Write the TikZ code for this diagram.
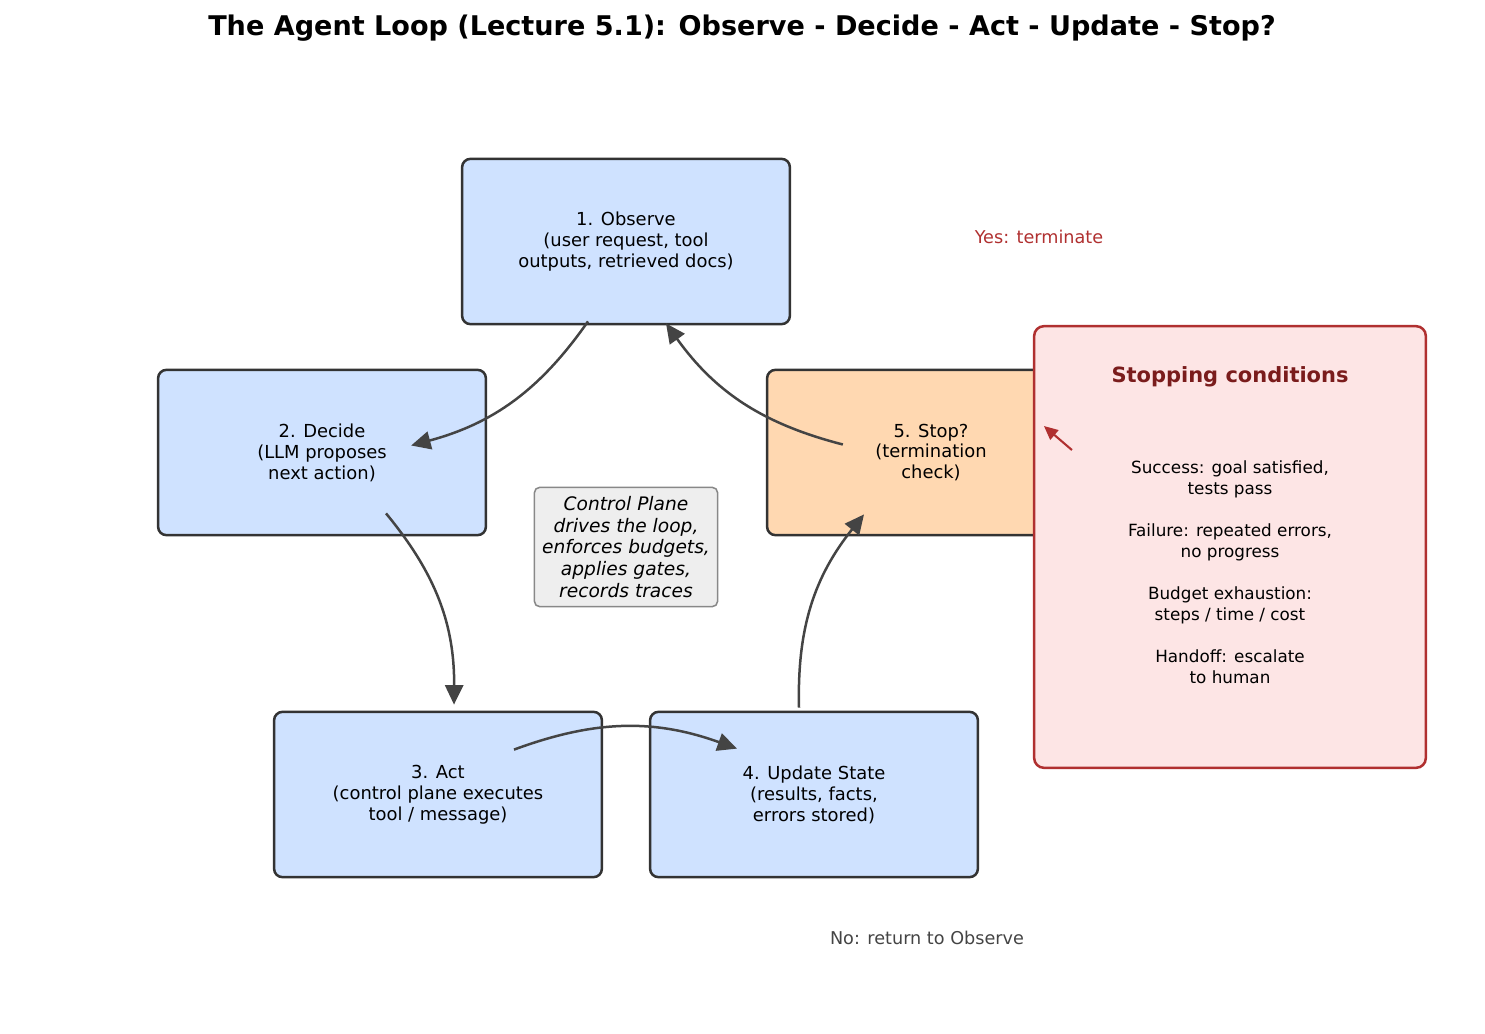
\documentclass[tikz,border=0pt]{standalone}
\usepackage{fontspec}
\setmainfont{DejaVu Sans}
\usetikzlibrary{arrows.meta,calc}
\definecolor{stepblue}{HTML}{CFE2FF}
\definecolor{steppeach}{HTML}{FFD8B1}
\definecolor{stepedge}{HTML}{333333}
\definecolor{flowgray}{HTML}{444444}
\definecolor{condfill}{HTML}{FDE5E5}
\definecolor{condedge}{HTML}{B03030}
\definecolor{condtitle}{HTML}{7A1C1C}
\definecolor{planefill}{HTML}{EEEEEE}
\definecolor{planeedge}{HTML}{888888}
\begin{document}
\begin{tikzpicture}[x=0.72pt,y=-0.72pt,
    stepbox/.style={draw=stepedge,line width=1.8pt,fill=stepblue,rounded corners=6pt,
      minimum width=236pt,minimum height=119pt,align=center,
      font=\fontsize{12.9}{15.1}\selectfont},
    flow/.style={draw=flowgray,line width=1.8pt,-{Triangle[length=14pt,width=13pt]}},
    note/.style={font=\fontsize{12.7}{15.1}\selectfont}]
      \useasboundingbox (0,0) rectangle (1485,1034);
      \node[font=\fontsize{19.5}{23}\selectfont\bfseries] (title) at (742,28)
        {The Agent Loop (Lecture 5.1): Observe - Decide - Act - Update - Stop?};
      \node[stepbox] (obs) at (626,241.5) {1. Observe\\(user request, tool\\outputs, retrieved docs)};
      \node[stepbox] (dec) at (322,452.5) {2. Decide\\(LLM proposes\\next action)};
      \node[stepbox] (act) at (438,794.5) {3. Act\\(control plane executes\\tool / message)};
      \node[stepbox] (upd) at (814,794.5) {4. Update State\\(results, facts,\\errors stored)};
      \node[stepbox,fill=steppeach] (stop) at (931,452.5) {5. Stop?\\(termination\\check)};
      \node[draw=planeedge,line width=1.1pt,fill=planefill,rounded corners=4pt,
        minimum width=132pt,minimum height=86pt,align=center,
        font=\fontsize{13.4}{15.8}\selectfont\itshape] (plane) at (626,547)
        {Control Plane\\drives the loop,\\enforces budgets,\\applies gates,\\records traces};
      \node[draw=condedge,line width=1.8pt,fill=condfill,rounded corners=7pt,
        minimum width=282pt,minimum height=318pt] (cond) at (1230,547) {};
      \node[font=\fontsize{15.1}{18}\selectfont\bfseries,text=condtitle] (condhead) at (1230,377)
        {Stopping conditions};
      \node[align=center,font=\fontsize{12.1}{15.1}\selectfont] (condbody) at (1230,572)
        {Success: goal satisfied,\\tests pass\\[15.1pt]Failure: repeated errors,\\no progress\\[15.1pt]Budget exhaustion:\\steps / time / cost\\[15.1pt]Handoff: escalate\\to human};
      \node[note,text=condedge] (yes) at (1039,237) {Yes: terminate};
      \node[note,text=flowgray] (no) at (927,938) {No: return to Observe};
      \begin{scope}[bend left=20]
        \draw[flow] ($(obs.south)+(-38,-4)$) to ($(dec.east)+(-76,-7)$);
        \draw[flow] ($(dec.south)+(64,-23)$) to ($(act.north)+(16,-6)$);
        \draw[flow] ($(act.north)+(76,39)$) to ($(upd.north)+(-77,38)$);
        \draw[flow] ($(upd.north)+(-15,-3)$) to ($(stop.south)+(-67,-22)$);
        \draw[flow] ($(stop.west)+(77,-8)$) to ($(obs.south)+(40,-2)$);
      \end{scope}
      \draw[draw=condedge,line width=1.5pt,-{Triangle[length=10pt,width=9pt]}]
        ($(cond.west)+(39,-97)$) -- ($(cond.west)+(11,-121)$);
    \end{tikzpicture}
\end{document}
